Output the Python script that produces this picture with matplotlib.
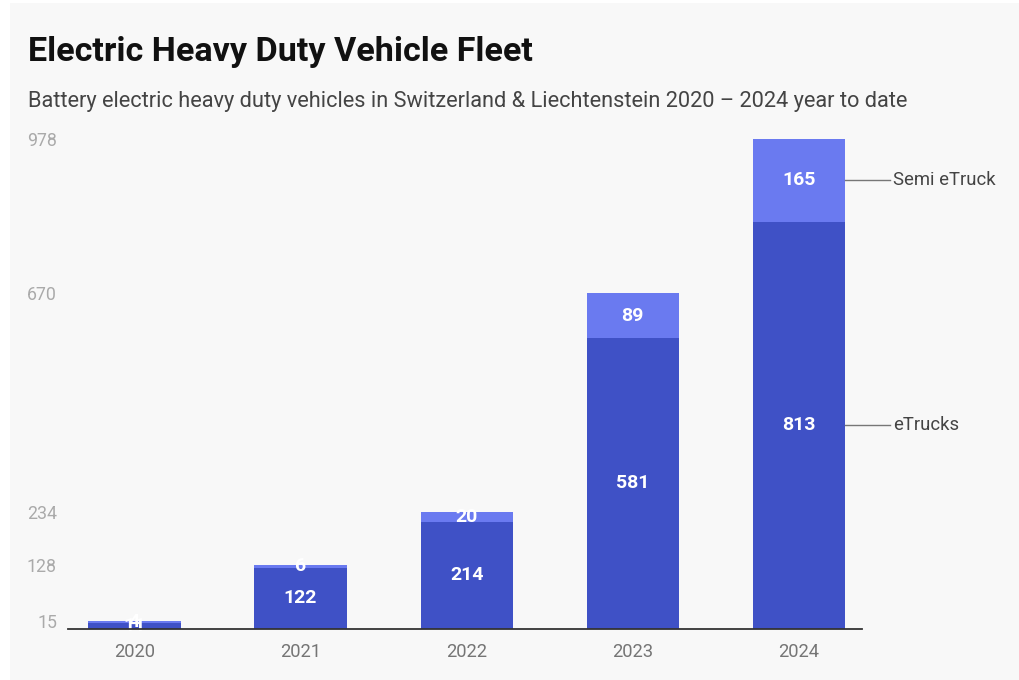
import matplotlib.pyplot as plt
from matplotlib.patches import Rectangle

plt.rcParams['font.family'] = ['Roboto', 'DejaVu Sans']

# data
years = ['2020', '2021', '2022', '2023', '2024']
etrucks = [11, 122, 214, 581, 813]
semi = [4, 6, 20, 89, 165]
totals = [a + b for a, b in zip(etrucks, semi)]

dark = '#3f51c6'
light = '#6a7af0'

fig = plt.figure(figsize=(10.2, 6.8), dpi=100, facecolor='white')
# light grey card behind everything
fig.patches.append(Rectangle((10 / 1020, 0), 1 - 10 / 1020, 1 - 3 / 680,
                             transform=fig.transFigure, facecolor='#f8f8f8',
                             edgecolor='none', zorder=-10))

ax = fig.add_axes([68 / 1020, 1 - 629 / 680, 794 / 1020, 490 / 680])
ax.set_facecolor('none')

x = list(range(len(years)))
w = 0.555
ax.bar(x, etrucks, width=w, color=dark, zorder=2)
ax.bar(x, semi, width=w, bottom=etrucks, color=light, zorder=2)

# segment labels
for i in x:
    ax.text(i, etrucks[i] / 2, str(etrucks[i]), ha='center', va='center',
            color='white', fontsize=14, fontweight='bold', zorder=3)
    ax.text(i, etrucks[i] + semi[i] / 2, str(semi[i]), ha='center', va='center',
            color='white', fontsize=14, fontweight='bold', zorder=3)

ax.set_xlim(-0.40, 4.38)
ax.set_ylim(0, 978)

ax.set_yticks(totals)
ax.set_yticklabels([str(t) for t in totals])
ax.set_xticks(x)
ax.set_xticklabels(years)
ax.tick_params(axis='y', length=0, pad=8, labelsize=12.8, labelcolor='#aaaaaa')
ax.tick_params(axis='x', length=0, pad=10, labelsize=13.2, labelcolor='#757575')

for side in ['left', 'right', 'top']:
    ax.spines[side].set_visible(False)
ax.spines['bottom'].set_color('#333333')
ax.spines['bottom'].set_linewidth(1.3)
ax.spines['bottom'].set_zorder(4)

# series labels on the right of the last bar
last = len(years) - 1
for yv, name in [(etrucks[last] / 2, 'eTrucks'),
                 (etrucks[last] + semi[last] / 2, 'Semi eTruck')]:
    ax.plot([last + w / 2, last + w / 2 + 0.27], [yv, yv], color='#777777',
            lw=1, clip_on=False)
    ax.text(last + w / 2 + 0.29, yv, name, ha='left', va='center',
            fontsize=13.3, color='#444444', clip_on=False)

fig.text(28 / 1020, 1 - 52 / 680, 'Electric Heavy Duty Vehicle Fleet',
         fontsize=24.6, fontweight='bold', color='#111111', va='center')
fig.text(28 / 1020, 1 - 102 / 680,
         'Battery electric heavy duty vehicles in Switzerland & Liechtenstein 2020 \u2013 2024 year to date',
         fontsize=15.7, color='#444444', va='center')

fig.savefig('out.png', dpi=100, facecolor=fig.get_facecolor())
